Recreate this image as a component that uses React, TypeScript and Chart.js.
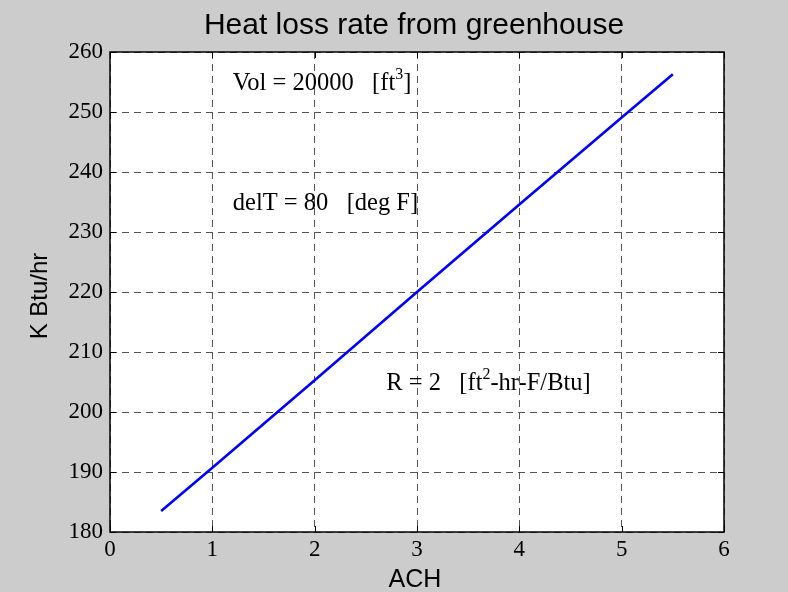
import React, { useEffect, useRef } from "react";
import { Chart, registerables } from "chart.js";

Chart.register(...registerables);

const achValues = [0.5, 1, 2, 3, 4, 5, 5.5];
const heatLoss = [183.5, 190.7, 205.3, 220.0, 234.6, 249.1, 256.3];
const titleText = "Heat loss rate from greenhouse";
const xLabel = "ACH";
const yLabel = "K Btu/hr";
// annotation segments: [text, isSuperscript]
const annotations: { x: number; y: number; parts: [string, boolean][] }[] = [
  { x: 1.2, y: 255, parts: [["Vol = 20000   [ft", false], ["3", true], ["]", false]] },
  { x: 1.2, y: 235, parts: [["delT = 80   [deg F]", false]] },
  { x: 2.7, y: 205, parts: [["R = 2   [ft", false], ["2", true], ["-hr-F/Btu]", false]] },
];

const W = 788;
const H = 592;

const matlabPlugin = {
  id: "matlabStyle",
  beforeDraw(chart: any) {
    const ctx = chart.ctx;
    const a = chart.chartArea;
    ctx.save();
    ctx.fillStyle = "#cccccc";
    ctx.fillRect(0, 0, chart.width, chart.height);
    ctx.fillStyle = "#ffffff";
    ctx.fillRect(a.left, a.top, a.right - a.left, a.bottom - a.top);
    ctx.restore();
  },
  afterDraw(chart: any) {
    const ctx = chart.ctx;
    const a = chart.chartArea;
    const xs = chart.scales.x;
    const ys = chart.scales.y;
    ctx.save();
    // frame
    ctx.strokeStyle = "#000000";
    ctx.lineWidth = 1.5;
    ctx.strokeRect(Math.round(a.left), Math.round(a.top), Math.round(a.right - a.left), Math.round(a.bottom - a.top));
    // inward ticks
    const tl = 6;
    ctx.lineWidth = 1;
    ctx.beginPath();
    xs.ticks.forEach((t: any) => {
      const px = Math.round(xs.getPixelForValue(t.value)) + 0.5;
      ctx.moveTo(px, a.bottom);
      ctx.lineTo(px, a.bottom - tl);
      ctx.moveTo(px, a.top);
      ctx.lineTo(px, a.top + tl);
    });
    ys.ticks.forEach((t: any) => {
      const py = Math.round(ys.getPixelForValue(t.value)) + 0.5;
      ctx.moveTo(a.left, py);
      ctx.lineTo(a.left + tl, py);
      ctx.moveTo(a.right, py);
      ctx.lineTo(a.right - tl, py);
    });
    ctx.stroke();

    // title
    ctx.fillStyle = "#000000";
    ctx.font = '30px "Liberation Sans"';
    ctx.textAlign = "center";
    ctx.textBaseline = "alphabetic";
    ctx.fillText(titleText, (a.left + a.right) / 2 - 3, 34);

    // x label
    ctx.font = '25px "Liberation Sans"';
    ctx.fillText(xLabel, (a.left + a.right) / 2 - 2, 587);

    // y label
    ctx.save();
    ctx.translate(47, (a.top + a.bottom) / 2 + 4);
    ctx.rotate(-Math.PI / 2);
    ctx.font = '24px "Liberation Sans"';
    ctx.fillText(yLabel, 0, 0);
    ctx.restore();

    // annotations
    ctx.textAlign = "left";
    annotations.forEach((an) => {
      let px = xs.getPixelForValue(an.x);
      const py = ys.getPixelForValue(an.y) + 8;
      an.parts.forEach(([txt, sup]) => {
        if (sup) {
          ctx.font = '16px "Liberation Serif"';
          ctx.fillText(txt, px, py - 11);
        } else {
          ctx.font = '24.5px "Liberation Serif"';
          ctx.fillText(txt, px, py);
        }
        px += ctx.measureText(txt).width;
      });
    });
    ctx.restore();
  },
};

export default function App() {
  const ref = useRef<HTMLCanvasElement | null>(null);
  useEffect(() => {
    if (!ref.current) return;
    const chart = new Chart(ref.current, {
      type: "line",
      data: {
        datasets: [
          {
            data: achValues.map((x, i) => ({ x, y: heatLoss[i] })),
            borderColor: "#0000ff",
            borderWidth: 2.6,
            pointRadius: 0,
            fill: false,
            tension: 0,
          },
        ],
      },
      options: {
        animation: false,
        responsive: false,
        devicePixelRatio: 1,
        layout: { padding: { top: 52, right: 64, left: 0, bottom: 0 } },
        plugins: { legend: { display: false }, title: { display: false }, tooltip: { enabled: false } },
        scales: {
          x: {
            type: "linear",
            min: 0,
            max: 6,
            ticks: {
              stepSize: 1,
              padding: 4,
              color: "#000",
              font: { family: "Liberation Serif", size: 23 },
            },
            grid: { color: "#555555", lineWidth: 1, drawTicks: false },
            border: { display: false, dash: [7, 5] },
            afterFit: (s: any) => {
              s.height = 60;
            },
          },
          y: {
            type: "linear",
            min: 180,
            max: 260,
            ticks: {
              stepSize: 10,
              padding: 7,
              color: "#000",
              font: { family: "Liberation Serif", size: 23 },
            },
            grid: { color: "#555555", lineWidth: 1, drawTicks: false },
            border: { display: false, dash: [7, 5] },
            afterFit: (s: any) => {
              s.width = 110;
            },
          },
        },
      },
      plugins: [matlabPlugin],
    });
    return () => chart.destroy();
  }, []);
  return (
    <div style={{ position: "fixed", left: 0, top: 0, width: W, height: H, background: "#cccccc" }}>
      <canvas ref={ref} width={W} height={H} style={{ display: "block" }} />
    </div>
  );
}
